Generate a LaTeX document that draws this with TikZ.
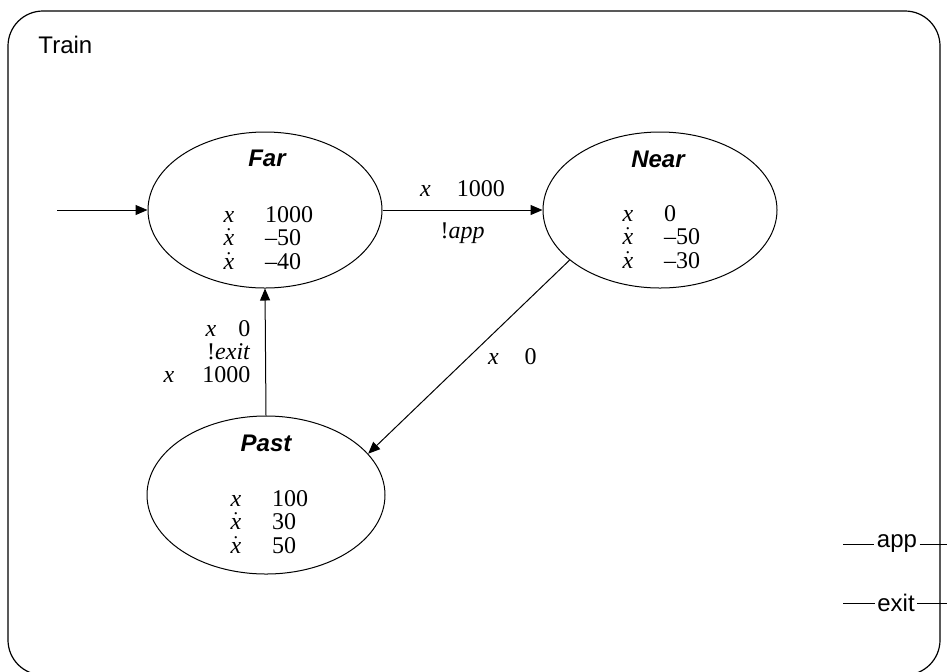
\documentclass[tikz,border=0pt]{standalone}
\usepackage{fontspec}
\setmainfont{Liberation Serif}
\setsansfont{Liberation Sans}
\usetikzlibrary{arrows.meta,shapes.geometric}

\newcommand{\vx}{\textit{x}}
\newcommand{\vxd}{$\dot{\mbox{\textit{x}}}$}
\newcommand{\relgap}{\hspace{13pt}}
\newcommand{\invtab}[1]{\begin{tabular}{@{}l@{\hspace{15.5pt}}l@{}}#1\end{tabular}}

\begin{document}
\begin{tikzpicture}[x=0.5pt,y=-0.5pt,>={Triangle[length=6pt,width=5pt]},line width=0.5pt,
    state/.style={ellipse,draw,minimum width=117pt,minimum height=78pt,inner sep=0pt},
    state name/.style={font=\sffamily\bfseries\itshape\fontsize{12}{14}\selectfont},
    inv/.style={font=\fontsize{12}{11.5}\selectfont,inner sep=0pt,anchor=west},
    guard/.style={font=\fontsize{12}{11.5}\selectfont},
    port/.style={font=\sffamily\fontsize{12}{14}\selectfont,inner sep=1pt}]

    \useasboundingbox (0,0) rectangle (947,671);
    \clip (0,0) rectangle (947,671);

    % automaton frame
    \draw[rounded corners=17.5pt, line width=0.6pt] (8,11) rectangle (940,675);
    \node[port, anchor=base west] (train) at (36,53) {Train};

    % states
    \node[state] (far) at (265,210) {};
    \node[state] (near) at (660,210) {};
    \node[state, minimum width=119pt, minimum height=79pt] (past) at (266,495) {};

    \node[state name] (far-name) at (267,158) {Far};
    \node[state name] (near-name) at (658,159) {Near};
    \node[state name] (past-name) at (266,443) {Past};

    \node[inv] (far-inv) at (223,241) {\invtab{\vx & 1000\\ \vxd & \textendash50\\ \vxd & \textendash40}};
    \node[inv] (near-inv) at (622,240) {\invtab{\vx & 0\\ \vxd & \textendash50\\ \vxd & \textendash30}};
    \node[inv] (past-inv) at (230,525) {\invtab{\vx & 100\\ \vxd & 30\\ \vxd & 50}};

    % transitions
    \coordinate (init) at (57,210);
    \draw[->] (init) -- (far);

    \draw[->] (far) -- (near)
        node[guard, midway, above=3pt] (far-near-g) {\vx\relgap 1000}
        node[guard, midway, below=3pt] (far-near-a) {!\textit{app}};

    \draw[->] (near.209) -- (past.22)
        node[guard, midway, right=6pt] (near-past-g) {\vx\relgap 0};

    \draw[->] (past.north) -- (far.south)
        node[guard, midway, left=4pt, align=right] (past-far-g)
        {\vx\hspace{11pt}0\\ !\textit{exit}\\ \vx\hspace{14pt}1000};

    % ports
    \node[port] (app) at (897,544) {app};
    \node[port] (exit) at (896,603) {exit};
    \coordinate (app-in) at (843,544);
    \coordinate (app-out) at (947,544);
    \coordinate (exit-in) at (843,603);
    \coordinate (exit-out) at (947,603);
    \draw (app-in) -- (app) -- (app-out);
    \draw (exit-in) -- (exit) -- (exit-out);
\end{tikzpicture}
\end{document}
